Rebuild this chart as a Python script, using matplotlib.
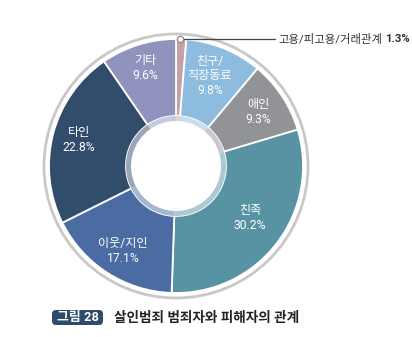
import matplotlib.pyplot as plt
from matplotlib.patches import Circle, FancyBboxPatch
import matplotlib.colors as mcolors
import numpy as np

# Data (clockwise from 12 o'clock)
labels = ['고용/피고용/거래관계', '친구/\n직장동료', '애인', '친족', '이웃/지인', '타인', '기타']
values = [1.3, 9.8, 9.3, 30.2, 17.1, 22.8, 9.6]
colors = ['#c2a2a8', '#8dbcdf', '#929397', '#5893a3', '#4b6ca2', '#324c6c', '#8f93be']
title = '살인범죄 범죄자와 피해자의 관계'
fig_tag = '그림 28'

# label positions in pixel coords (x, y from top), for slices 1..6
label_pos = [None, (210, 76), (258, 112), (250, 218), (123, 251), (79, 140), (145, 68)]

W, H = 412, 337
fig = plt.figure(figsize=(W / 100, H / 100), dpi=100)
ax = fig.add_axes([0, 0, 1, 1])

font = ['Roboto', 'Noto Sans CJK KR']
cx, cy = 176, H - 166
r_out, r_in, r_hole = 127, 50, 45

ax.pie(values, colors=colors, startangle=90, counterclock=False,
       radius=r_out, center=(cx, cy),
       wedgeprops=dict(width=r_out - r_in, edgecolor='white', linewidth=1.3))

# lighter inner ring
light = [tuple(0.5 * np.array(mcolors.to_rgb(c)) + 0.5) for c in colors]
ax.pie(values, colors=light, startangle=90, counterclock=False,
       radius=r_in, center=(cx, cy),
       wedgeprops=dict(width=r_in - r_hole, edgecolor='none'))

# outer thin gray ring
ax.add_patch(Circle((cx, cy), 132, fill=False, edgecolor='#c8c8c8', lw=2))

ax.set_xlim(0, W)
ax.set_ylim(0, H)
ax.set_aspect('equal')
ax.axis('off')

# slice labels
for i, (lab, v) in enumerate(zip(labels, values)):
    if label_pos[i] is None:
        continue
    x, y = label_pos[i]
    ax.text(x, H - y, f'{lab}\n{v}%', ha='center', va='center', color='white',
            fontsize=8.7, family=font, linespacing=1.15)

# callout for the smallest slice
mx, my = 180, H - 39
ax.plot([mx, 275], [my, my], color='#444444', lw=0.9, zorder=5)
ax.plot(mx, my, 'o', ms=4.5, mfc='white', mec='#888888', mew=0.9, zorder=6)
t = ax.text(278, my, labels[0], ha='left', va='center', color='#333333',
            fontsize=8.2, family=font)
fig.canvas.draw()
bb = t.get_window_extent().transformed(ax.transData.inverted())
ax.text(bb.x1 + 3, my, f'{values[0]}%', ha='left', va='center', color='#333333',
        fontsize=8.2, family=font, weight='bold')

# caption
ax.add_patch(FancyBboxPatch((52, H - 325), 51, 15,
                            boxstyle='round,pad=0,rounding_size=4',
                            fc='#2f4b6c', ec='none'))
ax.text(77.5, H - 317.5, fig_tag, ha='center', va='center', color='white',
        fontsize=9.3, family=font, weight='bold')
ax.text(114, H - 318, title, ha='left', va='center', color='#222222',
        fontsize=9.8, family=font, weight='bold')

fig.savefig('out.png', dpi=100)
